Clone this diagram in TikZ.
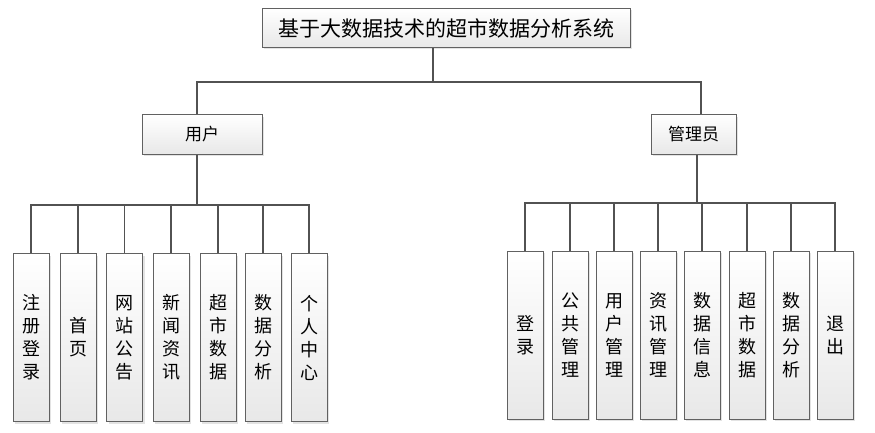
\documentclass[tikz,border=0pt]{standalone}
\usepackage{fontspec}
\setmainfont{Noto Sans CJK SC}
\usetikzlibrary{shadows}

\begin{document}
\begin{tikzpicture}[x=1pt, y=-1pt, line width=1.2pt,
          box/.style = {draw=black!62, line width=1pt, inner sep=0pt, top color=white, bottom color=black!9, drop shadow={shadow xshift=2pt, shadow yshift=-2pt, opacity=0.22}},
          leaf/.style = {box, minimum width=36pt, minimum height=168pt, align=center, font=\fontsize{18}{23}\selectfont},
          link/.style = {draw=black!68}]
          \useasboundingbox (0,0) rectangle (875,433);
          \node[box, minimum width=368pt, minimum height=39pt, font=\fontsize{21}{21}\selectfont] (sys) at (446,28) {基于大数据技术的超市数据分析系统};
          \node[box, minimum width=120pt, minimum height=39pt, font=\fontsize{17}{17}\selectfont] (user) at (202,134.5) {用户};
          \node[box, minimum width=85pt, minimum height=39pt, font=\fontsize{17}{17}\selectfont] (admin) at (693.5,134.5) {管理员};

          % user leaves
          \foreach \x/\t [count=\i] in {31/注\\册\\登\\录, 78/首\\页, 124.5/网\\站\\公\\告, 171/新\\闻\\资\\讯, 218/超\\市\\数\\据, 263/数\\据\\分\\析, 309/个\\人\\中\\心}
            \node[leaf] (u_\i) at (\x,337.5) {\t};
          % admin leaves
          \foreach \x/\t [count=\i] in {525/登\\录, 570/公\\共\\管\\理, 614/用\\户\\管\\理, 658/资\\讯\\管\\理, 702/数\\据\\信\\息, 747/超\\市\\数\\据, 791/数\\据\\分\\析, 835/退\\出}
            \node[leaf] (a_\i) at (\x,335) {\t};

          \coordinate (top) at (433,82);
          \coordinate (ubus) at (197,205);
          \coordinate (abus) at (697,203);

          \draw[link] (top |- sys.south) -- (top) -| (user.north -| ubus);
          \draw[link] (top) -| ([xshift=7.5pt]admin.north);
          \draw[link] (ubus |- user.south) -- (ubus);
          \draw[link] (abus |- admin.south) -- (abus);
          \foreach \i in {1,...,7}
            \draw[link] (ubus) -| (u_\i.north);
          \foreach \i in {1,...,8}
            \draw[link] (abus) -| (a_\i.north);
        \end{tikzpicture}
\end{document}
